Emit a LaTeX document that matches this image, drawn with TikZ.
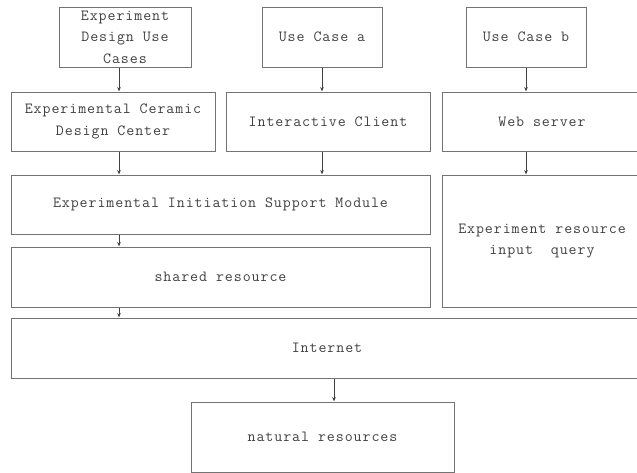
\documentclass[tikz,border=0pt]{standalone}
\usepackage{fontspec}
\setmonofont{Latin Modern Mono}[LetterSpace=6]
\usetikzlibrary{arrows.meta}
\begin{document}
\begin{tikzpicture}[x=1pt,y=-1pt,
  box/.style={draw=black!55, line width=1pt, rectangle, inner sep=0pt, align=center,
    text=black!75, font=\ttfamily\fontsize{15.5}{21.5}\selectfont, anchor=center},
  arr/.style={draw=black!75, line width=0.8pt, -{Stealth[length=4.5pt,width=3.5pt]}}]
\useasboundingbox (0,0) rectangle (637,472);
\clip (0,0) rectangle (637,472);
% top row
\node[box, minimum width=132pt, minimum height=60pt] (uc) at (125,37) {Experiment\\Design Use\\Cases};
\node[box, minimum width=120pt, minimum height=60pt] (ua) at (322,37) {Use Case a};
\node[box, minimum width=120pt, minimum height=60pt] (ub) at (526,37) {Use Case b};
% second row
\node[box, minimum width=204pt, minimum height=59pt] (cer) at (113,121.5) {Experimental Ceramic\\Design Center};
\node[box, minimum width=204pt, minimum height=59pt] (ic) at (328,121.5) {Interactive Client};
\node[box, minimum width=200pt, minimum height=59pt] (ws) at (542,121.5) {Web server};
% third row
\node[box, minimum width=419pt, minimum height=59pt] (init) at (220.5,204.5) {Experimental Initiation Support Module};
\node[box, minimum width=200pt, minimum height=132pt] (eri) at (542,241) {Experiment resource\\input\ \ query};
\node[box, minimum width=419pt, minimum height=60pt] (sh) at (220.5,277) {shared resource};
% internet
\node[box, minimum width=632pt, minimum height=60pt] (net) at (327,348) {Internet};
% natural
\node[box, minimum width=263pt, minimum height=70pt] (nat) at (322.5,437) {natural resources};
% arrow columns
\coordinate (cx1) at (119,0);
\coordinate (cx2) at (322,0);
\coordinate (cx3) at (526,0);
\coordinate (cx4) at (334,0);
\draw[arr] (uc.south -| cx1) -- (cer.north -| cx1);
\draw[arr] (ua.south -| cx2) -- (ic.north -| cx2);
\draw[arr] (ub.south -| cx3) -- (ws.north -| cx3);
\draw[arr] (cer.south -| cx1) -- (init.north -| cx1);
\draw[arr] (ic.south -| cx2) -- (init.north -| cx2);
\draw[arr] (ws.south -| cx3) -- (eri.north -| cx3);
\draw[arr] (init.south -| cx1) -- (sh.north -| cx1);
\draw[arr] (sh.south -| cx1) -- (net.north -| cx1);
\draw[arr] (net.south -| cx4) -- (nat.north -| cx4);
\end{tikzpicture}
\end{document}
